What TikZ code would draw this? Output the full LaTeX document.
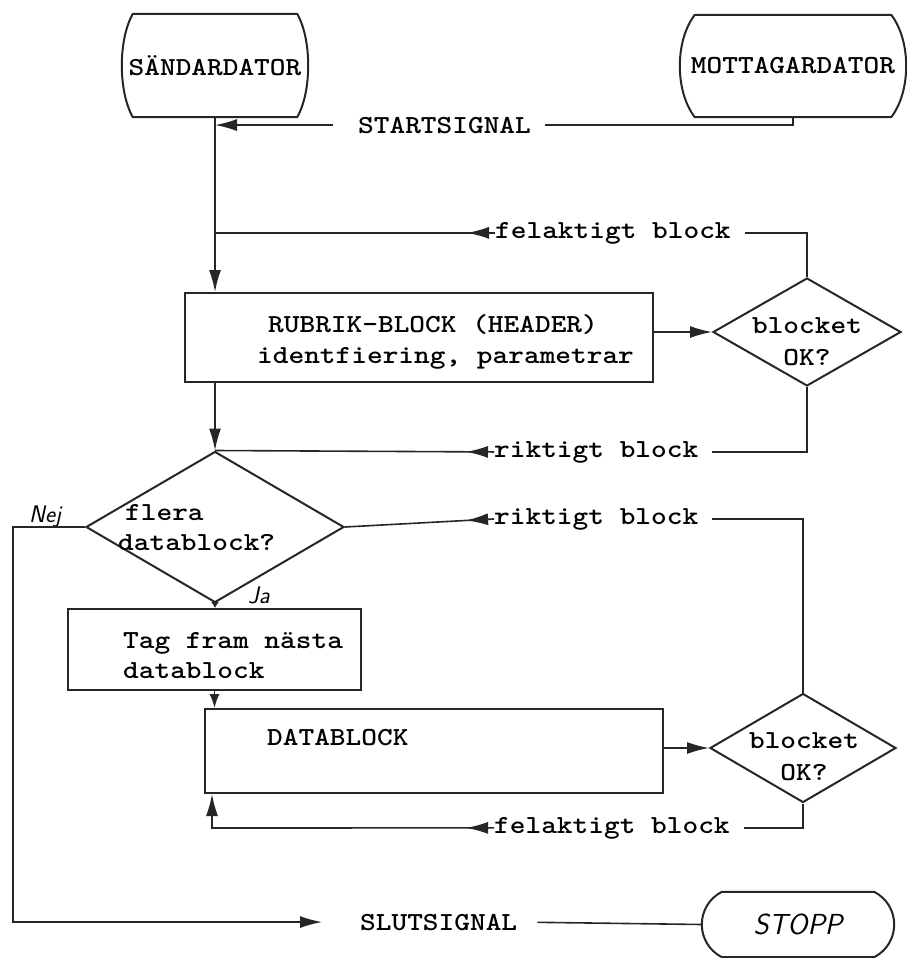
\documentclass[tikz,border=0pt]{standalone}
\usepackage{fontspec}
\usepackage{graphicx}
\usetikzlibrary{shapes.geometric,arrows.meta,decorations.markings}
\newcommand\hs[1]{\scalebox{1.15}[1]{#1}}
\newcommand\twfont{\fontsize{26}{31}\selectfont\ttfamily\bfseries}
\newcommand\handfont{\fontsize{24}{28}\selectfont\sffamily\itshape}
\tikzset{
  lnk/.style={line width=1.6pt, draw=black!85},
  arr/.style={-{Latex[length=22pt,width=12pt]}},
  midarr/.style={postaction={decorate},
    decoration={markings, mark=at position #1 with {\arrow{Latex[length=22pt,width=12pt]}}}},
  shapeln/.style={draw=black!85, line width=2pt, line join=round},
  term/.style={rectangle, inner sep=0pt, font=\twfont},
  boxnode/.style={rectangle, draw=black!85, line width=2pt, inner sep=0pt},
  dia/.style={diamond, draw=black!85, line width=2pt, inner sep=0pt},
  txt/.style={font=\twfont, inner sep=0pt, anchor=base west},
  hand/.style={font=\handfont, inner sep=0pt, anchor=base west}
}
% outline of a terminal node: #1 node, #2 bulge of the sides, #3 control offset
\newcommand\termline[3]{%
  \draw[shapeln] ([xshift=#2pt]#1.north west) -- ([xshift=-#2pt]#1.north east)
    .. controls +({4*#2/3},#3) and +({4*#2/3},-#3) .. ([xshift=-#2pt]#1.south east)
    -- ([xshift=#2pt]#1.south west)
    .. controls +({-4*#2/3},-#3) and +({-4*#2/3},#3) .. ([xshift=#2pt]#1.north west) -- cycle;}
\begin{document}
\begin{tikzpicture}[x=1pt,y=-1pt]
\useasboundingbox (0,0) rectangle (907,958);
% terminals
\node[term, minimum width=186pt, minimum height=103pt] (snd) at (215,65.5) {\hs{SÄNDARDATOR}};
\node[term, minimum width=226pt, minimum height=102pt] (mot) at (793,66) {\hs{MOTTAGARDATOR}};
\node[term, minimum width=192pt, minimum height=65pt, font=\fontsize{29}{34}\selectfont\sffamily\itshape] (stop) at (798,924.5) {STOPP};
\termline{snd}{11}{26}
\termline{mot}{15}{26}
\termline{stop}{20}{14}
% boxes
\node[boxnode, minimum width=468pt, minimum height=89pt] (rub) at (419,337.5) {};
\node[boxnode, minimum width=293pt, minimum height=81pt] (tag) at (214.5,649.5) {};
\node[boxnode, minimum width=458pt, minimum height=84pt] (db) at (434,751) {};
% diamonds
\node[dia, minimum width=188pt, minimum height=108pt] (rubdia) at (807,332) {};
\node[dia, minimum width=186pt, minimum height=109pt] (dbdia) at (803,748) {};
\node[dia, minimum width=258pt, minimum height=151pt] (flera) at (215,527) {};
% texts inside shapes
\node[txt] (rubA) at (268,332) {\hs{RUBRIK-BLOCK (HEADER)}};
\node[txt] (rubB) at (257,363) {\hs{identfiering, parametrar}};
\node[txt, anchor=base] (rubdiaA) at (807,333) {\hs{blocket}};
\node[txt, anchor=base] (rubdiaB) at (807,365) {\hs{OK?}};
\node[txt] (fleraA) at (125,520) {\hs{flera}};
\node[txt] (fleraB) at (118,550) {\hs{datablock?}};
\node[txt] (tagA) at (123,648) {\hs{Tag fram nästa}};
\node[txt] (tagB) at (123,678) {\hs{datablock}};
\node[txt] (dbA) at (267,745) {\hs{DATABLOCK}};
\node[txt, anchor=base] (dbdiaA) at (804,748) {\hs{blocket}};
\node[txt, anchor=base] (dbdiaB) at (804,780) {\hs{OK?}};
\node[hand] (nej) at (29,522) {Nej};
\node[hand] (ja) at (248,603) {Ja};
% line labels
\node[txt] (sst) at (358,133) {\hs{STARTSIGNAL}};
\node[txt] (fel1) at (495,238) {\hs{felaktigt block}};
\node[txt] (rik1) at (494,457) {\hs{riktigt block}};
\node[txt] (rik2) at (494,524) {\hs{riktigt block}};
\node[txt] (fel2) at (494,833) {\hs{felaktigt block}};
\node[txt] (slut) at (360,930) {\hs{SLUTSIGNAL}};
\coordinate (nejc) at (13,527);
\coordinate (fc) at (212,828);
% connectors
\draw[lnk, shorten >=14pt] (mot.south) |- (sst.east);
\draw[lnk, arr, shorten <=25pt] (sst.west) -- (sst.west -| snd.south);
\draw[lnk, arr] (snd.south) -- (snd.south |- rub.north);
\draw[lnk, arr] (rub.east |- rubdia.west) -- (rubdia.west);
\draw[lnk, shorten >=14pt] (rubdia.north) |- (fel1.east);
\draw[lnk, midarr=28pt] (fel1.west) -- (fel1.west -| snd.south);
\draw[lnk, arr] (snd.south |- rub.south) -- (flera.north);
\draw[lnk, shorten >=14pt] (rubdia.south) |- (rik1.east);
\draw[lnk, midarr=28pt] (rik1.west) -- (flera.north);
\draw[lnk, shorten >=14pt] (dbdia.north) |- (rik2.east);
\draw[lnk, midarr=28pt] (rik2.west) -- (flera.east);
\draw[lnk, -{Latex[length=6pt,width=8pt]}] (flera.south) -- (flera.south |- tag.north);
\draw[lnk, -{Latex[length=14pt,width=10pt]}] (tag.south) -- (tag.south |- db.north);
\draw[lnk, arr] (db.east |- dbdia.west) -- (dbdia.west);
\draw[lnk, shorten >=14pt] (dbdia.south) |- (fel2.east);
\draw[lnk, arr, midarr=28pt] (fel2.west) -- (fc) -- (fc |- db.south);
\draw[lnk, arr, shorten >=38pt] (flera.west) -- (nejc) |- (slut.west);
\draw[lnk, shorten <=20pt] (slut.east) -- (stop.west);
\end{tikzpicture}
\end{document}
